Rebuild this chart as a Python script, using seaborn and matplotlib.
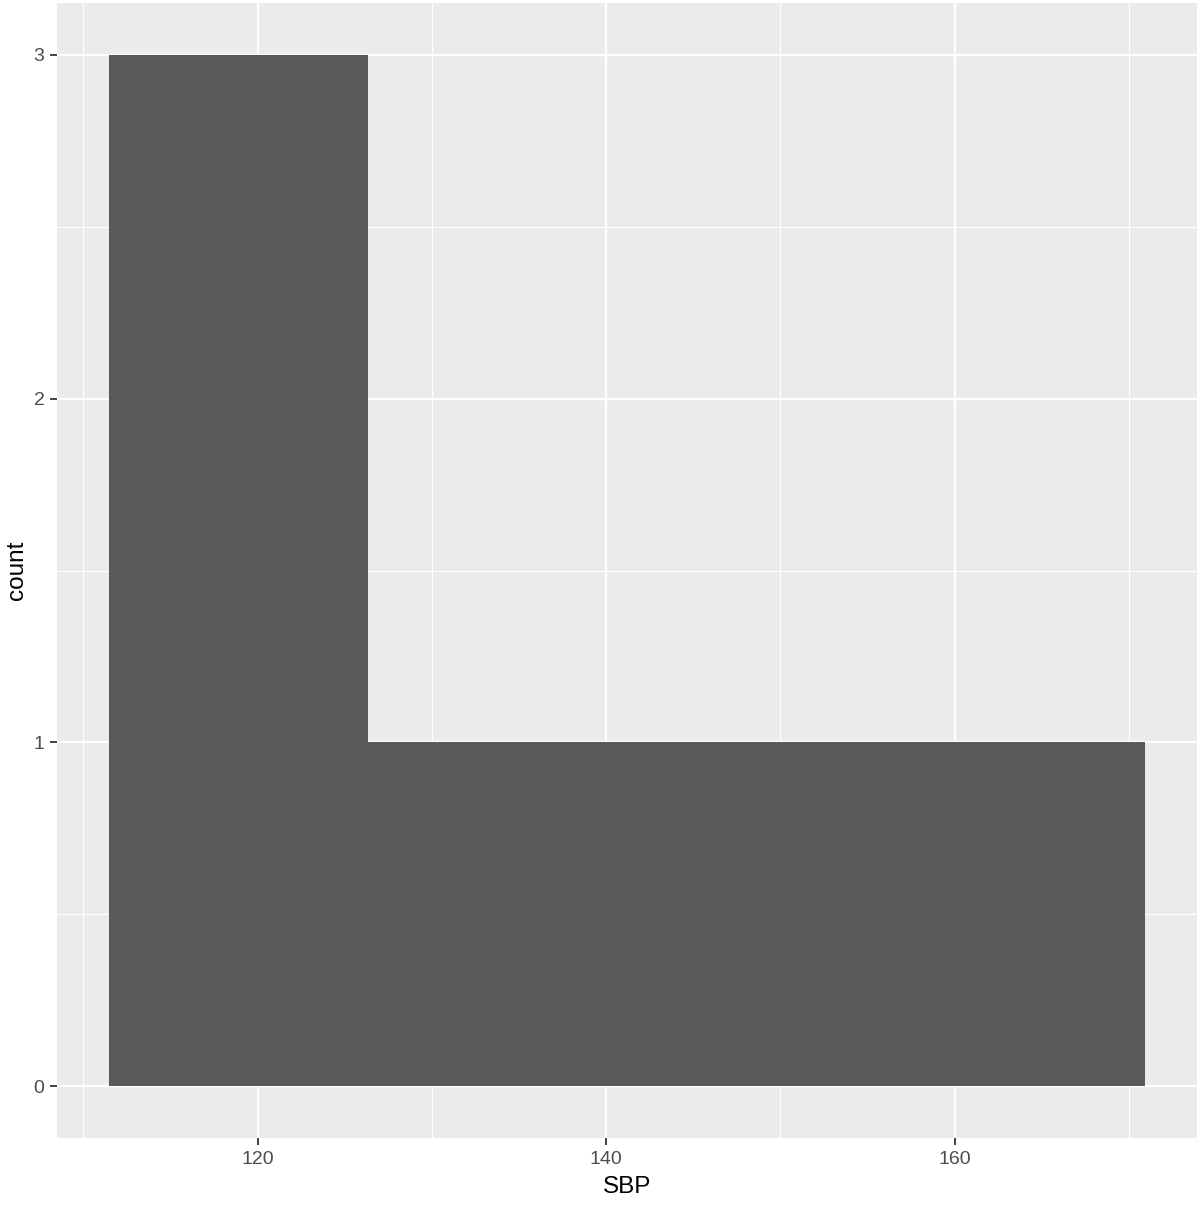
import matplotlib
matplotlib.use("Agg")
import matplotlib.pyplot as plt
import numpy as np
import pandas as pd
import seaborn as sns

# systolic blood pressure readings
SBP = [118.9, 120.0, 124.0, 135.0, 148.0, 163.5]
N_BINS = 4
X_TICKS = [120, 140, 160]
X_MINOR = [110, 130, 150, 170]
Y_TICKS = [0, 1, 2, 3]
Y_MINOR = [0.5, 1.5, 2.5]

df = pd.DataFrame({"SBP": SBP})

# ggplot-style bins: centred on min and max
lo, hi = min(SBP), max(SBP)
width = (hi - lo) / (N_BINS - 1)
edges = lo - width / 2 + width * np.arange(N_BINS + 1)

sns.set_theme(style="white")
plt.rcParams["font.family"] = ["Liberation Sans", "DejaVu Sans"]

fig = plt.figure(figsize=(12, 12.07), dpi=100)
ax = fig.add_axes([57 / 1200, 1 - 1138 / 1207, 1140 / 1200, 1135 / 1207])
ax.set_facecolor("#ebebeb")

sns.histplot(data=df, x="SBP", bins=edges, color="#595959", alpha=1,
             edgecolor="none", linewidth=0, ax=ax, zorder=3)

span = edges[-1] - edges[0]
ax.set_xlim(edges[0] - 0.05 * span, edges[-1] + 0.05 * span)
ax.set_ylim(-0.15, 3.15)

ax.set_xticks(X_TICKS)
ax.set_xticks(X_MINOR, minor=True)
ax.set_yticks(Y_TICKS)
ax.set_yticks(Y_MINOR, minor=True)
ax.grid(True, which="major", color="white", linewidth=1.6, zorder=0)
ax.grid(True, which="minor", color="white", linewidth=0.8, zorder=0)
ax.set_axisbelow(True)
for spine in ax.spines.values():
    spine.set_visible(False)

ax.tick_params(axis="both", which="major", length=5, width=1.3, color="#333333",
               labelcolor="#4d4d4d", labelsize=14, pad=4, bottom=True, left=True)
ax.tick_params(axis="both", which="minor", length=0)

ax.set_xlabel("SBP", fontsize=17.5, color="black", labelpad=6)
ax.set_ylabel("count", fontsize=17.5, color="black", labelpad=4)

fig.savefig("out.png", dpi=100)
